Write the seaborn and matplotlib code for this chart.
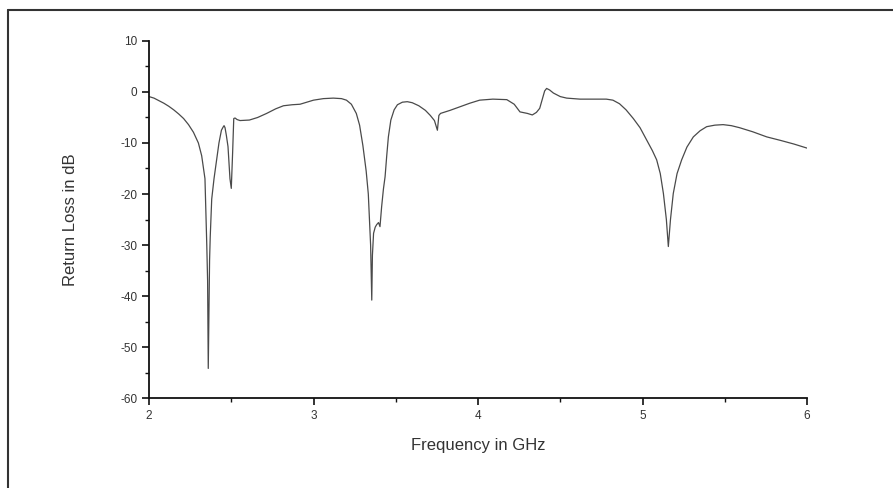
import numpy as np
import pandas as pd
import matplotlib.pyplot as plt
import seaborn as sns
from matplotlib.lines import Line2D
from matplotlib.ticker import MultipleLocator

# frequency (GHz) and return loss (dB)
freq_ghz = [2.00, 2.03, 2.06, 2.09, 2.12, 2.15, 2.18, 2.21, 2.24, 2.27, 2.30, 2.32, 2.34,
            2.351, 2.356, 2.360, 2.364, 2.368, 2.372, 2.381, 2.395, 2.41, 2.425, 2.44,
            2.45, 2.456, 2.462, 2.47, 2.48, 2.492, 2.50, 2.508, 2.515, 2.523, 2.535,
            2.553, 2.61, 2.66, 2.715, 2.77, 2.817, 2.87, 2.918, 2.96, 3.00, 3.06, 3.12,
            3.17, 3.20, 3.23, 3.26, 3.28, 3.30, 3.32, 3.333, 3.347, 3.354, 3.358, 3.365,
            3.375, 3.384, 3.395, 3.404, 3.414, 3.425, 3.435, 3.445, 3.455, 3.47, 3.49,
            3.51, 3.54, 3.57, 3.60, 3.64, 3.68, 3.71, 3.735, 3.753, 3.762, 3.772, 3.83,
            3.89, 3.95, 4.01, 4.09, 4.175, 4.22, 4.255, 4.30, 4.33, 4.355, 4.375, 4.39,
            4.405, 4.417, 4.435, 4.458, 4.50, 4.539, 4.62, 4.70, 4.78, 4.82, 4.86, 4.90,
            4.944, 4.985, 5.025, 5.06, 5.086, 5.108, 5.127, 5.145, 5.157, 5.17, 5.187,
            5.21, 5.238, 5.27, 5.309, 5.35, 5.39, 5.44, 5.49, 5.54, 5.59, 5.67, 5.755,
            5.84, 5.92, 6.00]
return_loss_db = [-0.9, -1.2, -1.7, -2.2, -2.8, -3.5, -4.3, -5.2, -6.4, -7.9, -10.0, -12.5, -17.0,
                  -30.0, -37.0, -54.2, -43.0, -33.0, -28.4, -21.0, -17.0, -13.5, -10.0, -7.5,
                  -6.9, -6.6, -7.0, -8.5, -10.7, -17.0, -18.9, -12.0, -5.2, -5.1, -5.4,
                  -5.6, -5.5, -5.0, -4.2, -3.3, -2.7, -2.5, -2.4, -2.0, -1.6, -1.3, -1.2,
                  -1.3, -1.6, -2.4, -4.2, -6.5, -10.5, -15.5, -20.0, -30.0, -40.8, -32.0, -27.7,
                  -26.5, -26.0, -25.6, -26.4, -22.5, -19.0, -16.6, -12.5, -8.8, -5.5, -3.5,
                  -2.5, -2.0, -1.9, -2.1, -2.7, -3.6, -4.6, -5.6, -7.5, -4.6, -4.2, -3.6,
                  -2.9, -2.2, -1.6, -1.4, -1.5, -2.4, -3.9, -4.2, -4.5, -4.0, -3.2, -1.5,
                  0.2, 0.7, 0.4, -0.2, -0.9, -1.2, -1.4, -1.4, -1.4, -1.6, -2.3, -3.5,
                  -5.2, -7.0, -9.4, -11.5, -13.3, -16.0, -19.9, -25.0, -30.3, -25.0, -19.9,
                  -16.0, -13.3, -10.8, -8.8, -7.6, -6.8, -6.5, -6.4, -6.6, -7.0, -7.8, -8.8,
                  -9.5, -10.2, -11.0]

df = pd.DataFrame({"Frequency": freq_ghz, "ReturnLoss": return_loss_db})

sns.set_style("ticks")
plt.rcParams['font.family'] = ['Liberation Sans', 'DejaVu Sans']
plt.rcParams['axes.unicode_minus'] = False

fig = plt.figure(figsize=(8.93, 4.88), dpi=100)
ax = fig.add_axes([0.1669, 0.1844, 0.7368, 0.7316])

sns.lineplot(data=df, x="Frequency", y="ReturnLoss", ax=ax, color="#4a4a4a",
             linewidth=0.9, sort=False)

ax.set_xlim(2, 6)
ax.set_ylim(-60, 10)
ax.xaxis.set_major_locator(MultipleLocator(1))
ax.xaxis.set_minor_locator(MultipleLocator(0.5))
ax.yaxis.set_major_locator(MultipleLocator(10))
ax.yaxis.set_minor_locator(MultipleLocator(5))
ax.tick_params(which="major", direction="out", length=5, width=1.2, labelsize=8.5,
               labelcolor="#333333", color="#111111")
ax.tick_params(which="minor", direction="out", length=3, width=1.0, color="#111111")

for side in ["top", "right"]:
    ax.spines[side].set_visible(False)
for side in ["left", "bottom"]:
    ax.spines[side].set_linewidth(1.3)
    ax.spines[side].set_color("#111111")

ax.set_xlabel("Frequency in GHz", fontsize=12, color="#333333", labelpad=12)
ax.set_ylabel("Return Loss in dB", fontsize=12, color="#333333", labelpad=30)

# frame of the original picture: only the top and left edges are visible
fig.add_artist(Line2D([8 / 893, 1.0], [1 - 10 / 488, 1 - 10 / 488],
                      transform=fig.transFigure, color="#333333", linewidth=1.5))
fig.add_artist(Line2D([8 / 893, 8 / 893], [1 - 10 / 488, 0.0],
                      transform=fig.transFigure, color="#333333", linewidth=1.5))

fig.savefig("out.png", dpi=100)
